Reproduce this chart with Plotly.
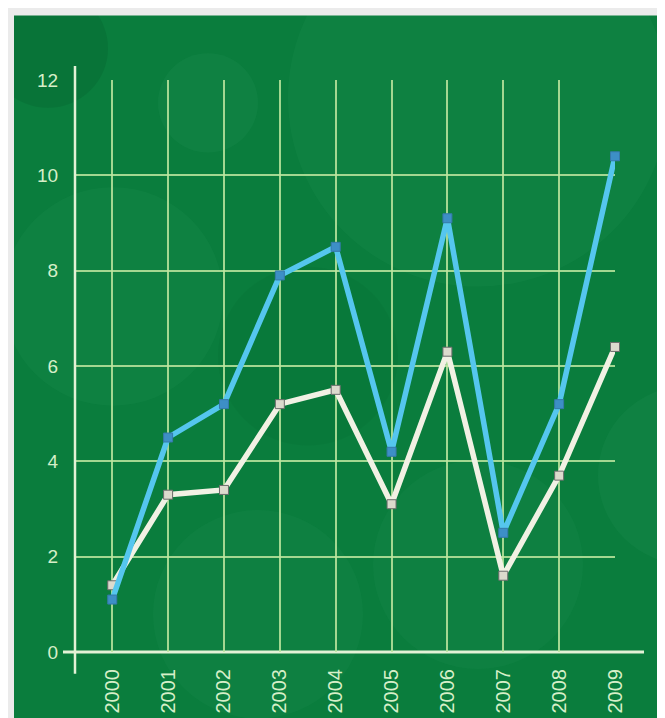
import plotly.graph_objects as go

years = [2000, 2001, 2002, 2003, 2004, 2005, 2006, 2007, 2008, 2009]
year_labels = [str(y) for y in years]
blue_values = [1.1, 4.5, 5.2, 7.9, 8.5, 4.2, 9.1, 2.5, 5.2, 10.4]
white_values = [1.4, 3.3, 3.4, 5.2, 5.5, 3.1, 6.3, 1.6, 3.7, 6.4]
y_ticks = [0, 2, 4, 6, 8, 10, 12]

W, H = 665, 718
L, R, T, B = 67, 58, 72, 70
PW = W - L - R
PH = H - T - B


def px_x(p):
    return (p - L) / PW


def px_y(p):
    return (H - B - p) / PH


fig = go.Figure()

fig.add_trace(go.Scatter(
    x=years, y=white_values, mode="lines+markers", cliponaxis=False,
    line=dict(color="#f1f1e4", width=5.5),
    marker=dict(symbol="square", size=9, color="#dcdacd",
                line=dict(color="#6b6b6b", width=1)),
    showlegend=False, hoverinfo="skip"))
fig.add_trace(go.Scatter(
    x=years, y=blue_values, mode="lines+markers", cliponaxis=False,
    line=dict(color="#55c6ee", width=5.5),
    marker=dict(symbol="square", size=9, color="#3d8fc6",
                line=dict(color="#3579aa", width=1)),
    showlegend=False, hoverinfo="skip"))

shapes = []
# subtle bokeh circles (cx, cy, r, color, opacity)
bokeh = [
    (470, 90, 190, "#3aa86a", 0.10),
    (200, 95, 50, "#3aa86a", 0.12),
    (105, 290, 110, "#3aa86a", 0.10),
    (250, 610, 105, "#3aa86a", 0.09),
    (470, 560, 105, "#3aa86a", 0.09),
    (680, 470, 90, "#3aa86a", 0.12),
    (40, 40, 60, "#04582a", 0.22),
    (300, 350, 90, "#04582a", 0.10),
]
for cx, cy, r, c, op in bokeh:
    shapes.append(dict(type="circle", xref="paper", yref="paper", layer="below",
                       x0=px_x(cx - r), x1=px_x(cx + r),
                       y0=px_y(cy + r), y1=px_y(cy - r),
                       fillcolor=c, opacity=op, line=dict(width=0)))
# light gray frame strips (top and left)
shapes.append(dict(type="rect", xref="paper", yref="paper", layer="below",
                   x0=px_x(-5), x1=px_x(W + 5), y0=px_y(7), y1=px_y(-5),
                   fillcolor="#ebebeb", line=dict(width=0)))
shapes.append(dict(type="rect", xref="paper", yref="paper", layer="below",
                   x0=px_x(-5), x1=px_x(6), y0=px_y(H + 5), y1=px_y(-5),
                   fillcolor="#ebebeb", line=dict(width=0)))
# axis lines
shapes.append(dict(type="line", xref="paper", yref="paper", layer="above",
                   x0=0, x1=0, y0=px_y(670), y1=px_y(58),
                   line=dict(color="#e3f2d6", width=2.5)))
shapes.append(dict(type="line", xref="paper", yref="paper", layer="below",
                   x0=px_x(55), x1=px_x(636), y0=0, y1=0,
                   line=dict(color="#e3f2d6", width=3)))

fig.update_layout(
    width=W, height=H,
    margin=dict(l=L, r=R, t=T, b=B, pad=0),
    paper_bgcolor="#0a7d3d",
    plot_bgcolor="rgba(0,0,0,0)",
    shapes=shapes,
    xaxis=dict(range=[2000 - 40 / (PW / 9.0), 2009], tickmode="array",
               tickvals=years, ticktext=year_labels, tickangle=-90,
               showgrid=True, gridcolor="rgba(190,230,160,0.85)", gridwidth=2,
               zeroline=False, showline=False, ticks="outside", ticklen=8,
               tickcolor="rgba(0,0,0,0)",
               tickfont=dict(family="Liberation Sans, Arial", size=20, color="#d6efc8")),
    yaxis=dict(range=[0, 12], tickmode="array", tickvals=y_ticks,
               ticktext=[str(v) for v in y_ticks],
               showgrid=True, gridcolor="rgba(190,230,160,0.85)", gridwidth=2,
               zeroline=False, showline=False, ticks="outside", ticklen=12,
               tickcolor="rgba(0,0,0,0)",
               tickfont=dict(family="Liberation Sans, Arial", size=19, color="#d6efc8")),
)

fig.write_html("out.html")
